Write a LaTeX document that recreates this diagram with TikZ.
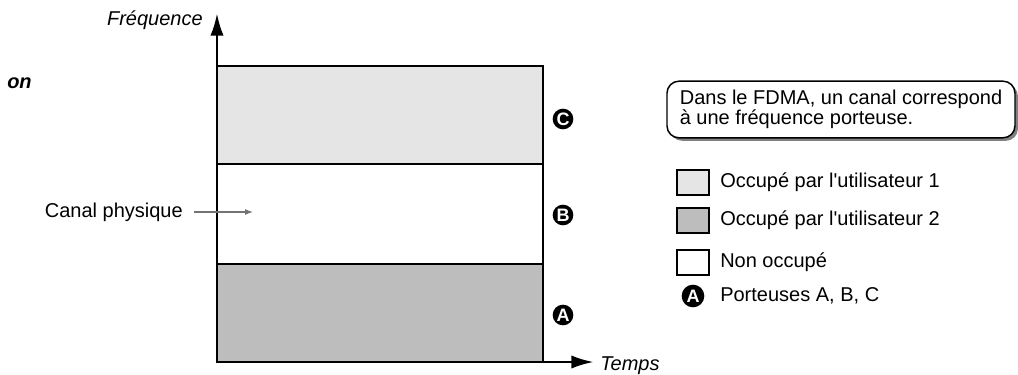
\documentclass[tikz,border=0pt]{standalone}
\usepackage{fontspec}
\setmainfont{Liberation Sans}
\usetikzlibrary{arrows.meta,shadows}
\begin{document}
\begin{tikzpicture}[x=0.75pt,y=-0.75pt,
  lbl/.style={font=\fontsize{15}{17}\selectfont, inner sep=0pt},
  axis/.style={line width=2.2pt, -{Latex[length=17pt,width=10pt]}},
  band/.style={draw=black, line width=1.3pt},
  keybox/.style={draw=black, line width=1.3pt, minimum width=24pt, minimum height=19pt, inner sep=0pt},
  carrier/.style={circle, fill=black, text=white, inner sep=0pt, minimum size=15.5pt,
                  font=\fontsize{13.5}{13.5}\selectfont\bfseries}]
\useasboundingbox (0,0) rectangle (1018,375);

% frequency bands
\path[band, fill=black!10] (217,66) rectangle (543,164);
\path[band, fill=white] (217,164) rectangle (543,264);
\path[band, fill=black!26] (217,264) rectangle (543,362);

% axes
\coordinate (O) at (217,362);
\coordinate (ftop) at (217,13);
\coordinate (tend) at (594,362);
\draw[axis] (O) -- (ftop);
\draw[axis] (O) -- (tend);
\node[lbl, font=\fontsize{15}{17}\selectfont\itshape, anchor=east] (freq) at (203,20) {Fréquence};
\node[lbl, font=\fontsize{15}{17}\selectfont\itshape, anchor=west] (temps) at (600,366) {Temps};
\node[lbl, font=\fontsize{15}{17}\selectfont\itshape\bfseries, anchor=west] (on) at (7,83) {on};

% carriers
\node[carrier] (C) at (563,119) {C};
\node[carrier] (B) at (563,215) {B};
\node[carrier] (A) at (563,315) {A};

% physical channel pointer
\node[lbl, anchor=east] (canal) at (183,212) {Canal physique};
\coordinate (canalend) at (253,212);
\draw[black!55, line width=0.8pt, -{Latex[length=6pt,width=4.5pt]}] ([xshift=8pt]canal.east) -- (canalend);

% callout
\node[lbl, draw=black, line width=1.1pt, rounded corners=9pt, fill=white,
      drop shadow={shadow xshift=2.2pt, shadow yshift=-2.2pt, fill=black!50, opacity=1},
      minimum width=261pt, minimum height=42.5pt, align=left,
      font=\fontsize{15}{12.5}\selectfont] (callout) at (841,109.5)
  {Dans le FDMA, un canal correspond\\à une fréquence porteuse.};

% legend
\node[keybox, fill=black!10] (k1) at (693,182.5) {};
\node[keybox, fill=black!26] (k2) at (693,220.5) {};
\node[keybox, fill=white] (k3) at (693,262.5) {};
\node[carrier, minimum size=17pt] (k4) at (693,296) {A};
\node[lbl, anchor=west] (t1) at (720,182.5) {Occupé par l\textquotesingle utilisateur 1};
\node[lbl, anchor=west] (t2) at (720,220.5) {Occupé par l\textquotesingle utilisateur 2};
\node[lbl, anchor=west] (t3) at (720,262.5) {Non occupé};
\node[lbl, anchor=west] (t4) at (720,296) {Porteuses A, B, C};
\end{tikzpicture}
\end{document}
